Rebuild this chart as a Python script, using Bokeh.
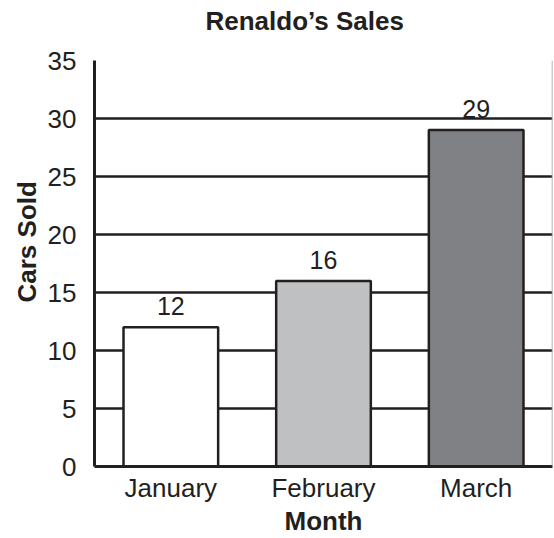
from bokeh.plotting import figure
from bokeh.models import ColumnDataSource, Range1d, FactorRange, FixedTicker, Span, Title
from bokeh.core.properties import value
from bokeh.embed import file_html
from bokeh.resources import INLINE

months = ["January", "February", "March"]
cars_sold = [12, 16, 29]
bar_colors = ["#ffffff", "#bfc0c2", "#808184"]
y_ticks = [0, 5, 10, 15, 20, 25, 30, 35]

INK = "#231f20"
FONT = "Liberation Sans"

src = ColumnDataSource(dict(month=months, sold=cars_sold, color=bar_colors,
                            label=[str(v) for v in cars_sold]))

W, H = 554, 538
BL, BR, BT, BB = 94, 2, 60, 72

p = figure(width=W, height=H, output_backend="svg", toolbar_location=None,
           x_range=FactorRange(factors=months, range_padding=0, factor_padding=0),
           y_range=Range1d(0, 35),
           min_border_left=BL, min_border_right=BR, min_border_top=BT, min_border_bottom=BB,
           title="Renaldo\u2019s Sales")

p.title.align = "left"
p.title.offset = 111
p.title.standoff = 0
p.title.text_font = FONT
p.title.text_font_size = "26px"
p.title.text_font_style = "bold"
p.title.text_color = INK

# invisible spacer between the title and the plot frame
spacer = Title(text=" ", text_font_size="1px", standoff=22, text_color="#ffffff")
p.add_layout(spacer, "above")

p.vbar(x="month", top="sold", width=0.62, source=src, fill_color="color",
       line_color=INK, line_width=2.5)

p.text(x="month", y="sold", text="label", source=src, text_align="center",
       text_baseline="bottom", y_offset=-12, text_font=value(FONT),
       text_font_size="25px", text_color=INK)

p.xgrid.grid_line_color = None
p.ygrid.ticker = FixedTicker(ticks=y_ticks[1:])
p.ygrid.grid_line_color = INK
p.ygrid.grid_line_width = 2.5
p.ygrid.level = "underlay"

p.outline_line_color = None
p.background_fill_color = "#ffffff"
p.border_fill_color = "#ffffff"
p.add_layout(Span(location=3, dimension="height", line_color="#9a9a9a", line_width=1.5))

p.yaxis.ticker = FixedTicker(ticks=y_ticks)
for ax in (p.xaxis[0], p.yaxis[0]):
    ax.axis_line_color = INK
    ax.axis_line_width = 3
    ax.major_tick_line_color = None
    ax.minor_tick_line_color = None
    ax.major_label_text_font = FONT
    ax.major_label_text_font_size = "26px"
    ax.major_label_text_color = INK
    ax.axis_label_text_font = FONT
    ax.axis_label_text_font_size = "26px"
    ax.axis_label_text_font_style = "bold"
    ax.axis_label_text_color = INK

p.yaxis.major_label_standoff = 12
p.xaxis.major_label_standoff = 0
p.xaxis.axis_label = "Month"
p.xaxis.axis_label_standoff = 0

ytitle = Title(text="Cars Sold", align="left", offset=164, standoff=6,
               text_font=FONT, text_font_size="26px", text_font_style="bold",
               text_color=INK)
p.add_layout(ytitle, "left")

open("out.html", "w").write(file_html(p, INLINE))
